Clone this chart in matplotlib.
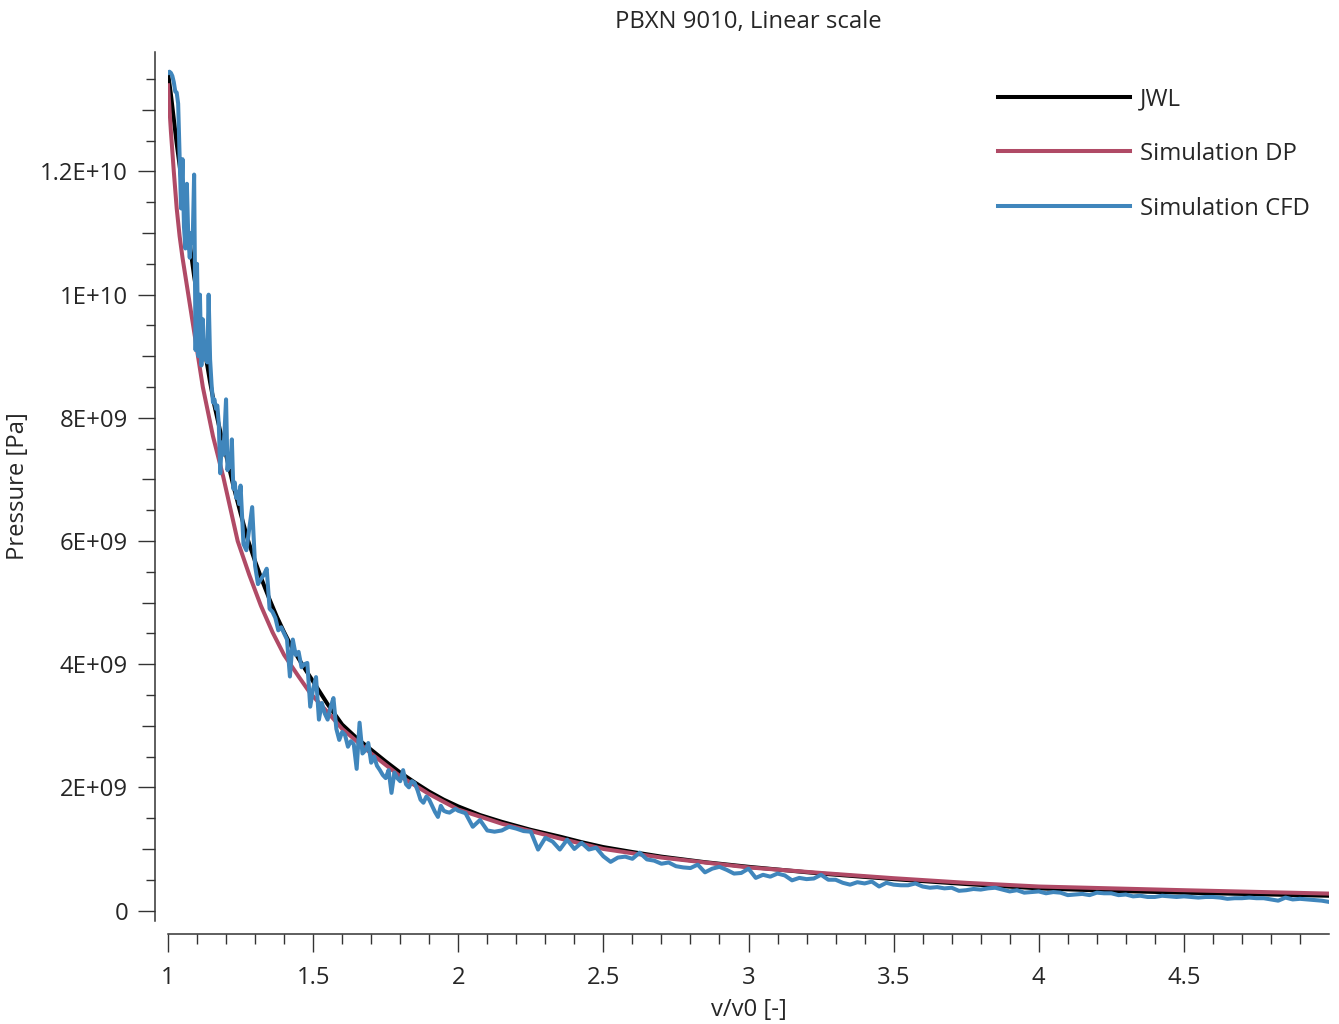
import numpy as np
import matplotlib
matplotlib.use("Agg")
import matplotlib.pyplot as plt
from matplotlib.ticker import FixedLocator, NullLocator, NullFormatter

# ---------------- data ----------------
TITLE = "PBXN 9010, Linear scale"
X_LABEL = "v/v0 [-]"
Y_LABEL = "Pressure [Pa]"
SERIES_NAMES = ["JWL", "Simulation DP", "Simulation CFD"]

# JWL reference curve (pressure in units of 1e9 Pa)
JWL_V = [1.00, 1.01, 1.02, 1.03, 1.04, 1.05, 1.06, 1.07, 1.08, 1.09, 1.10, 1.115,
         1.13, 1.145, 1.16, 1.18, 1.20, 1.225, 1.25, 1.275, 1.30, 1.325, 1.35,
         1.375, 1.40, 1.425, 1.45, 1.475, 1.50, 1.55, 1.60, 1.65, 1.70, 1.75,
         1.80, 1.85, 1.90, 1.95, 2.00, 2.075, 2.15, 2.25, 2.35, 2.425, 2.50,
         2.60, 2.70, 2.85, 3.00, 3.125, 3.25, 3.375, 3.50, 3.625, 3.75, 3.875,
         4.00, 4.25, 4.50, 4.75, 5.00]
JWL_P = [13.60, 13.25, 12.85, 12.45, 12.10, 11.70, 11.35, 11.00, 10.65, 10.30,
         10.00, 9.48, 9.00, 8.58, 8.20, 7.78, 7.40, 6.90, 6.45, 6.02, 5.67, 5.35,
         5.05, 4.77, 4.52, 4.29, 4.09, 3.90, 3.72, 3.35, 3.02, 2.80, 2.61, 2.42,
         2.24, 2.08, 1.93, 1.80, 1.69, 1.55, 1.44, 1.31, 1.20, 1.11, 1.03, 0.95,
         0.875, 0.785, 0.71, 0.655, 0.60, 0.555, 0.51, 0.47, 0.43, 0.395, 0.36,
         0.32, 0.29, 0.265, 0.24]

# Simulation DP
DP_V = [1.00, 1.01, 1.02, 1.03, 1.04, 1.05, 1.07, 1.09, 1.12, 1.155, 1.19, 1.24,
        1.28, 1.32, 1.36, 1.40, 1.45, 1.49, 1.55, 1.60, 1.70, 1.80, 1.90, 2.00,
        2.15, 2.35, 2.50, 2.70, 3.00, 3.25, 3.50, 3.75, 4.00, 4.50, 5.00]
DP_P = [13.40, 12.65, 12.00, 11.40, 10.95, 10.60, 10.00, 9.40, 8.50, 7.70, 7.05,
        6.00, 5.45, 4.95, 4.52, 4.15, 3.80, 3.53, 3.22, 2.95, 2.55, 2.18, 1.89,
        1.64, 1.41, 1.17, 1.00, 0.86, 0.70, 0.61, 0.525, 0.45, 0.39, 0.33, 0.275]

# Simulation CFD (sample positions in three resolution blocks)
CFD_V = np.round(np.concatenate([
    np.arange(1.000, 1.2475, 0.005),
    np.arange(1.25, 1.995, 0.01),
    np.arange(2.0, 5.0125, 0.025)]), 4)
CFD_P = [
    # 1.000 - 1.245 (step 0.005)
    13.60, 13.62, 13.60, 13.55, 13.45, 13.30, 13.28, 13.10, 12.25, 11.40,
    12.20, 11.10, 10.75, 11.80, 10.90, 10.60, 11.00, 10.85, 11.95, 9.10,
    10.50, 9.00, 10.00, 8.85, 9.60, 8.95, 9.10, 8.90, 10.00, 8.95,
    8.55, 8.25, 8.30, 8.15, 8.20, 7.90, 7.10, 7.60, 7.40, 7.80,
    8.30, 7.15, 7.40, 7.20, 7.65, 6.85, 6.95, 6.70, 6.80, 6.60,
    # 1.25 - 1.99 (step 0.01)
    6.90, 5.95, 5.85, 6.20, 6.55, 5.60, 5.30, 5.38, 5.45, 5.55,
    4.90, 4.85, 4.75, 4.55, 4.60, 4.50, 4.40, 3.80, 4.40, 4.15,
    4.20, 3.95, 4.00, 4.02, 3.31, 3.60, 3.79, 3.10, 3.37, 3.20,
    3.10, 3.30, 3.45, 2.95, 2.77, 2.90, 2.85, 2.66, 2.75, 2.70,
    2.30, 3.05, 2.55, 2.60, 2.72, 2.40, 2.50, 2.35, 2.28, 2.20,
    2.15, 2.28, 1.91, 2.24, 2.15, 2.10, 2.28, 2.05, 2.00, 2.10,
    2.07, 1.95, 1.80, 1.75, 1.85, 1.80, 1.70, 1.60, 1.52, 1.70,
    1.62, 1.60, 1.59, 1.62, 1.65,
    # 2.000 - 5.000 (step 0.025)
    1.62, 1.58, 1.36, 1.47, 1.30, 1.28, 1.30, 1.36, 1.33, 1.29,
    1.28, 0.99, 1.18, 1.12, 0.99, 1.15, 1.00, 1.10, 0.99, 1.02,
    0.88, 0.79, 0.86, 0.875, 0.84, 0.94, 0.83, 0.81, 0.76, 0.78,
    0.72, 0.70, 0.69, 0.745, 0.62, 0.68, 0.71, 0.66, 0.60, 0.61,
    0.68, 0.53, 0.58, 0.55, 0.60, 0.57, 0.49, 0.53, 0.51, 0.52,
    0.58, 0.50, 0.50, 0.45, 0.42, 0.46, 0.44, 0.47, 0.39, 0.45,
    0.42, 0.41, 0.41, 0.44, 0.39, 0.37, 0.38, 0.36, 0.37, 0.32,
    0.33, 0.35, 0.34, 0.36, 0.37, 0.34, 0.31, 0.33, 0.29, 0.30,
    0.31, 0.28, 0.30, 0.29, 0.25, 0.26, 0.27, 0.25, 0.29, 0.28,
    0.28, 0.25, 0.26, 0.23, 0.24, 0.22, 0.22, 0.24, 0.23, 0.22,
    0.23, 0.22, 0.21, 0.22, 0.22, 0.21, 0.19, 0.20, 0.20, 0.21,
    0.20, 0.20, 0.18, 0.16, 0.21, 0.18, 0.19, 0.18, 0.17, 0.16,
    0.14]

X_TICKS = [1, 1.5, 2, 2.5, 3, 3.5, 4, 4.5]
X_TICK_LABELS = ["1", "1.5", "2", "2.5", "3", "3.5", "4", "4.5"]
Y_TICKS = [0, 2e9, 4e9, 6e9, 8e9, 1e10, 1.2e10]
Y_TICK_LABELS = ["0", "2E+09", "4E+09", "6E+09", "8E+09", "1E+10", "1.2E+10"]

assert len(CFD_V) == len(CFD_P), (len(CFD_V), len(CFD_P))

# ---------------- style ----------------
plt.rcParams['font.family'] = ['Open Sans', 'DejaVu Sans']
TXT = '#262626'
AX = '#333333'
FS = 17.2
COLORS = ['#000000', '#B04A66', '#4086BC']
LW = 2.9

W, H = 1339, 1024
fig = plt.figure(figsize=(W / 100, H / 100), dpi=100)
L, R, T, B = 168, 1329, 52, 921
ax = fig.add_axes([L / W, 1 - B / H, (R - L) / W, (B - T) / H])

scale = 1e9
ax.plot(JWL_V, np.array(JWL_P) * scale, color=COLORS[0], lw=LW,
        label=SERIES_NAMES[0], solid_joinstyle='round')
ax.plot(DP_V, np.array(DP_P) * scale, color=COLORS[1], lw=LW,
        label=SERIES_NAMES[1], solid_joinstyle='round')
ax.plot(CFD_V, np.array(CFD_P) * scale, color=COLORS[2], lw=LW,
        label=SERIES_NAMES[2], solid_joinstyle='round')

ax.set_xlim(1, 5)
ax.set_ylim(-0.17e9, 13.94e9)

for s in ['top', 'right']:
    ax.spines[s].set_visible(False)
px = 72 / 100
ax.spines['left'].set_position(('outward', 13 * px))
ax.spines['bottom'].set_position(('outward', 13 * px))
for s in ['left', 'bottom']:
    ax.spines[s].set_color(AX)
    ax.spines[s].set_linewidth(1.1)

ax.xaxis.set_major_locator(FixedLocator(X_TICKS))
ax.set_xticklabels(X_TICK_LABELS)
minor_x = [round(1 + 0.1 * i, 2) for i in range(1, 40) if i % 5 != 0]
ax.xaxis.set_minor_locator(FixedLocator(minor_x))
ax.yaxis.set_major_locator(FixedLocator(Y_TICKS))
ax.set_yticklabels(Y_TICK_LABELS)
minor_y = [0.5e9 * i for i in range(0, 28) if i % 2 == 1]
ax.yaxis.set_minor_locator(FixedLocator(minor_y))

ax.tick_params(axis='x', which='major', length=18 * px, width=1.0, color=AX,
               labelsize=FS, labelcolor=TXT, pad=14 * px)
ax.tick_params(axis='x', which='minor', length=10 * px, width=1.0, color=AX)
ax.tick_params(axis='y', which='major', length=17 * px, width=1.0, color=AX,
               labelsize=FS, labelcolor=TXT, pad=10 * px)
ax.tick_params(axis='y', which='minor', length=9 * px, width=1.0, color=AX)

# medium-length ticks at odd multiples of 1e9
sec = ax.secondary_yaxis(-13 / (R - L))
sec.spines['left'].set_visible(False)
sec.yaxis.set_major_locator(FixedLocator([1e9 * i for i in range(1, 14, 2)]))
sec.yaxis.set_major_formatter(NullFormatter())
sec.yaxis.set_minor_locator(NullLocator())
sec.tick_params(axis='y', which='major', length=13 * px, width=1.0, color=AX)

ax.set_title(TITLE, fontsize=FS, color=TXT, pad=24 * px)
ax.set_xlabel(X_LABEL, fontsize=FS, color=TXT)
ax.set_ylabel(Y_LABEL, fontsize=FS, color=TXT)
ax.xaxis.set_label_coords(0.5, (B - 1010) / (B - T))
ax.xaxis.label.set_va('center')
ax.yaxis.set_label_coords((18 - L) / (R - L), 0.5)
ax.yaxis.label.set_va('center')

leg = ax.legend(loc='upper left', bbox_to_anchor=(998 / W, 1 - 87 / H),
                bbox_transform=fig.transFigure, frameon=False, fontsize=FS,
                handlelength=5.52, handletextpad=0.42, labelspacing=1.29,
                borderpad=0, borderaxespad=0)
for t in leg.get_texts():
    t.set_color(TXT)

fig.savefig('out.png', dpi=100)
